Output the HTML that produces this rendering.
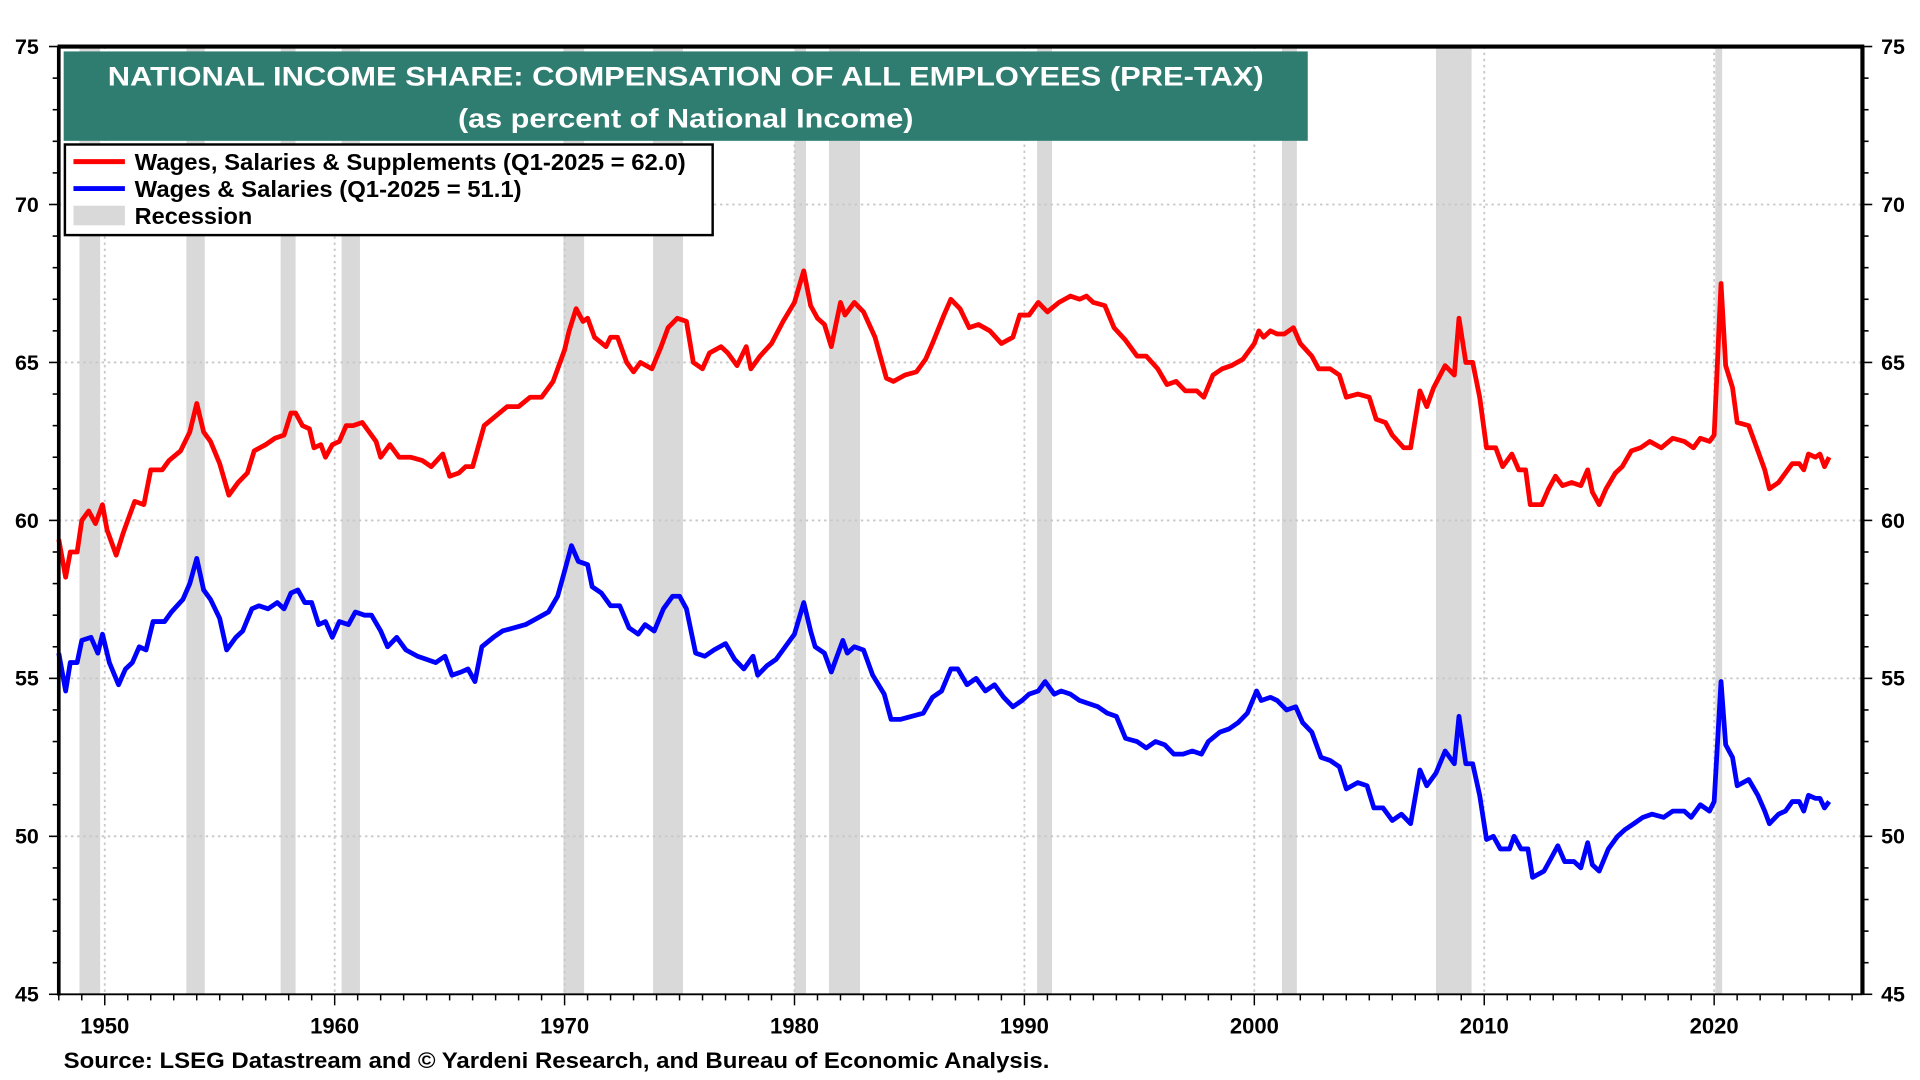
<!DOCTYPE html>
<html><head><meta charset="utf-8"><style>
html,body{margin:0;padding:0;background:#fff;width:1920px;height:1080px;overflow:hidden}
svg{display:block}
text{font-family:"Liberation Sans",Arial,sans-serif;font-weight:bold}
</style></head><body>
<svg id="chart" width="1920" height="1080" viewBox="0 0 1568 882" preserveAspectRatio="none" xmlns="http://www.w3.org/2000/svg">
<g id="rec"></g>
<g id="grid"></g>
<g id="series"></g>
<g id="axes"></g>
<rect x="52" y="42" width="1016" height="73" fill="#2e7d70"/>
<text x="560" y="70" fill="#fff" font-size="22" text-anchor="middle" textLength="944" lengthAdjust="spacingAndGlyphs">NATIONAL INCOME SHARE: COMPENSATION OF ALL EMPLOYEES (PRE-TAX)</text>
<text x="560" y="104" fill="#fff" font-size="22" text-anchor="middle" textLength="372" lengthAdjust="spacingAndGlyphs">(as percent of National Income)</text>
<g>
<rect x="53" y="118" width="529" height="74" fill="#fff" stroke="#000" stroke-width="2"/>
<line x1="60" y1="132" x2="102" y2="132" stroke="#f00" stroke-width="4"/>
<text x="110" y="139" font-size="19" textLength="450" lengthAdjust="spacingAndGlyphs">Wages, Salaries &amp; Supplements (Q1-2025 = 62.0)</text>
<line x1="60" y1="154" x2="102" y2="154" stroke="#00f" stroke-width="4"/>
<text x="110" y="161" font-size="19" textLength="316" lengthAdjust="spacingAndGlyphs">Wages &amp; Salaries (Q1-2025 = 51.1)</text>
<rect x="60" y="168" width="42" height="16" fill="#d9d9d9"/>
<text x="110" y="183" font-size="19" textLength="96" lengthAdjust="spacingAndGlyphs">Recession</text>
</g>
<text x="52" y="872" font-size="18" textLength="805" lengthAdjust="spacingAndGlyphs">Source: LSEG Datastream and © Yardeni Research, and Bureau of Economic Analysis.</text>
</svg>
<script>
const recStart=[1948.9,1953.55,1957.65,1960.3,1969.95,1973.85,1980.0,1981.5,1990.55,2001.2,2007.9,2020.05];
const recEnd=[1949.8,1954.35,1958.3,1961.1,1970.85,1975.15,1980.5,1982.85,1991.2,2001.85,2009.45,2020.35];
const redT=[1948.0,1948.3,1948.5,1948.8,1949.0,1949.3,1949.6,1949.9,1950.1,1950.5,1950.8,1951.0,1951.3,1951.7,1952.0,1952.5,1952.8,1953.3,1953.7,1954.0,1954.3,1954.6,1955.0,1955.4,1955.8,1956.2,1956.5,1957.0,1957.4,1957.8,1958.1,1958.3,1958.6,1958.9,1959.1,1959.4,1959.6,1959.9,1960.2,1960.5,1960.8,1961.2,1961.5,1961.8,1962.0,1962.4,1962.8,1963.3,1963.8,1964.2,1964.7,1965.0,1965.4,1965.7,1966.0,1966.5,1967.0,1967.5,1968.0,1968.5,1969.0,1969.5,1970.0,1970.2,1970.5,1970.8,1971.0,1971.3,1971.8,1972.0,1972.3,1972.7,1973.0,1973.3,1973.8,1974.2,1974.5,1974.9,1975.3,1975.6,1976.0,1976.3,1976.8,1977.1,1977.5,1977.9,1978.1,1978.5,1979.0,1979.5,1980.0,1980.4,1980.7,1981.0,1981.3,1981.6,1982.0,1982.2,1982.6,1983.0,1983.5,1984.0,1984.3,1984.8,1985.3,1985.7,1986.0,1986.5,1986.8,1987.2,1987.6,1988.0,1988.5,1989.0,1989.5,1989.8,1990.2,1990.6,1991.0,1991.5,1992.0,1992.4,1992.7,1993.0,1993.5,1993.9,1994.4,1994.9,1995.3,1995.8,1996.2,1996.6,1997.0,1997.5,1997.8,1998.2,1998.6,1999.0,1999.5,2000.0,2000.2,2000.4,2000.7,2001.0,2001.3,2001.7,2002.0,2002.5,2002.8,2003.3,2003.7,2004.0,2004.5,2005.0,2005.3,2005.7,2006.0,2006.5,2006.8,2007.2,2007.5,2007.8,2008.3,2008.7,2008.9,2009.2,2009.5,2009.8,2010.1,2010.5,2010.8,2011.2,2011.5,2011.8,2012.0,2012.5,2012.8,2013.1,2013.4,2013.8,2014.2,2014.5,2014.7,2015.0,2015.3,2015.7,2016.0,2016.4,2016.8,2017.2,2017.7,2018.2,2018.7,2019.1,2019.4,2019.8,2020.0,2020.3,2020.5,2020.8,2021.0,2021.5,2021.9,2022.2,2022.4,2022.8,2023.1,2023.4,2023.7,2023.9,2024.1,2024.4,2024.6,2024.8,2025.0];
const redV=[59.4,58.2,59.0,59.0,60.0,60.3,59.9,60.5,59.7,58.9,59.6,60.0,60.6,60.5,61.6,61.6,61.9,62.2,62.8,63.7,62.8,62.5,61.8,60.8,61.2,61.5,62.2,62.4,62.6,62.7,63.4,63.4,63.0,62.9,62.3,62.4,62.0,62.4,62.5,63.0,63.0,63.1,62.8,62.5,62.0,62.4,62.0,62.0,61.9,61.7,62.1,61.4,61.5,61.7,61.7,63.0,63.3,63.6,63.6,63.9,63.9,64.4,65.4,66.0,66.7,66.3,66.4,65.8,65.5,65.8,65.8,65.0,64.7,65.0,64.8,65.5,66.1,66.4,66.3,65.0,64.8,65.3,65.5,65.3,64.9,65.5,64.8,65.2,65.6,66.3,66.9,67.9,66.8,66.4,66.2,65.5,66.9,66.5,66.9,66.6,65.8,64.5,64.4,64.6,64.7,65.1,65.6,66.5,67.0,66.7,66.1,66.2,66.0,65.6,65.8,66.5,66.5,66.9,66.6,66.9,67.1,67.0,67.1,66.9,66.8,66.1,65.7,65.2,65.2,64.8,64.3,64.4,64.1,64.1,63.9,64.6,64.8,64.9,65.1,65.6,66.0,65.8,66.0,65.9,65.9,66.1,65.6,65.2,64.8,64.8,64.6,63.9,64.0,63.9,63.2,63.1,62.7,62.3,62.3,64.1,63.6,64.2,64.9,64.6,66.4,65.0,65.0,63.9,62.3,62.3,61.7,62.1,61.6,61.6,60.5,60.5,61.0,61.4,61.1,61.2,61.1,61.6,60.9,60.5,61.0,61.5,61.7,62.2,62.3,62.5,62.3,62.6,62.5,62.3,62.6,62.5,62.7,67.5,64.9,64.2,63.1,63.0,62.2,61.6,61.0,61.2,61.5,61.8,61.8,61.6,62.1,62.0,62.1,61.7,62.0];
const blueT=[1948.0,1948.3,1948.5,1948.8,1949.0,1949.4,1949.7,1949.9,1950.2,1950.6,1950.9,1951.2,1951.5,1951.8,1952.1,1952.6,1952.9,1953.4,1953.7,1954.0,1954.3,1954.6,1955.0,1955.3,1955.7,1956.0,1956.4,1956.7,1957.1,1957.5,1957.8,1958.1,1958.4,1958.7,1959.0,1959.3,1959.6,1959.9,1960.2,1960.6,1960.9,1961.3,1961.6,1962.0,1962.3,1962.7,1963.1,1963.6,1964.0,1964.4,1964.8,1965.1,1965.5,1965.8,1966.1,1966.4,1966.9,1967.3,1967.8,1968.3,1968.8,1969.3,1969.7,1970.0,1970.3,1970.6,1971.0,1971.2,1971.6,1972.0,1972.4,1972.8,1973.2,1973.5,1973.9,1974.3,1974.7,1975.0,1975.3,1975.7,1976.1,1976.5,1977.0,1977.4,1977.8,1978.2,1978.4,1978.8,1979.2,1979.6,1980.0,1980.4,1980.7,1980.9,1981.3,1981.6,1982.1,1982.3,1982.6,1983.0,1983.4,1983.9,1984.2,1984.6,1985.1,1985.6,1986.0,1986.4,1986.8,1987.1,1987.5,1987.9,1988.3,1988.7,1989.1,1989.5,1989.9,1990.2,1990.6,1990.9,1991.3,1991.6,1992.0,1992.4,1992.8,1993.2,1993.6,1994.0,1994.4,1994.9,1995.3,1995.7,1996.1,1996.5,1996.9,1997.3,1997.7,1998.0,1998.5,1998.9,1999.3,1999.7,2000.1,2000.3,2000.7,2001.0,2001.4,2001.8,2002.1,2002.5,2002.9,2003.3,2003.7,2004.0,2004.5,2004.9,2005.2,2005.6,2006.0,2006.4,2006.8,2007.2,2007.5,2007.9,2008.3,2008.7,2008.9,2009.2,2009.5,2009.8,2010.1,2010.4,2010.7,2011.1,2011.3,2011.6,2011.9,2012.1,2012.6,2012.9,2013.2,2013.5,2013.9,2014.2,2014.5,2014.7,2015.0,2015.4,2015.8,2016.1,2016.5,2016.9,2017.3,2017.8,2018.2,2018.7,2019.0,2019.4,2019.8,2020.0,2020.3,2020.5,2020.8,2021.0,2021.5,2021.9,2022.2,2022.4,2022.8,2023.1,2023.4,2023.7,2023.9,2024.1,2024.4,2024.6,2024.8,2025.0];
const blueV=[55.8,54.6,55.5,55.5,56.2,56.3,55.8,56.4,55.5,54.8,55.3,55.5,56.0,55.9,56.8,56.8,57.1,57.5,58.0,58.8,57.8,57.5,56.9,55.9,56.3,56.5,57.2,57.3,57.2,57.4,57.2,57.7,57.8,57.4,57.4,56.7,56.8,56.3,56.8,56.7,57.1,57.0,57.0,56.5,56.0,56.3,55.9,55.7,55.6,55.5,55.7,55.1,55.2,55.3,54.9,56.0,56.3,56.5,56.6,56.7,56.9,57.1,57.6,58.4,59.2,58.7,58.6,57.9,57.7,57.3,57.3,56.6,56.4,56.7,56.5,57.2,57.6,57.6,57.2,55.8,55.7,55.9,56.1,55.6,55.3,55.7,55.1,55.4,55.6,56.0,56.4,57.4,56.5,56.0,55.8,55.2,56.2,55.8,56.0,55.9,55.1,54.5,53.7,53.7,53.8,53.9,54.4,54.6,55.3,55.3,54.8,55.0,54.6,54.8,54.4,54.1,54.3,54.5,54.6,54.9,54.5,54.6,54.5,54.3,54.2,54.1,53.9,53.8,53.1,53.0,52.8,53.0,52.9,52.6,52.6,52.7,52.6,53.0,53.3,53.4,53.6,53.9,54.6,54.3,54.4,54.3,54.0,54.1,53.6,53.3,52.5,52.4,52.2,51.5,51.7,51.6,50.9,50.9,50.5,50.7,50.4,52.1,51.6,52.0,52.7,52.3,53.8,52.3,52.3,51.3,49.9,50.0,49.6,49.6,50.0,49.6,49.6,48.7,48.9,49.3,49.7,49.2,49.2,49.0,49.8,49.1,48.9,49.6,50.0,50.2,50.4,50.6,50.7,50.6,50.8,50.8,50.6,51.0,50.8,51.1,54.9,52.9,52.5,51.6,51.8,51.3,50.8,50.4,50.7,50.8,51.1,51.1,50.8,51.3,51.2,51.2,50.9,51.1];
const yTicks=[45,50,55,60,65,70,75];
const xTicks=[1950,1960,1970,1980,1990,2000,2010,2020];

const NS="http://www.w3.org/2000/svg";
const L=48,R=1521,T=38,B=812,X0=1948.0,X1=2026.45,Y0=45,Y1=75;
const xs=t=>L+(t-X0)/(X1-X0)*(R-L);
const ys=v=>B-(v-Y0)/(Y1-Y0)*(B-T);
function mk(tag,attrs,parent){const e=document.createElementNS(NS,tag);for(const k in attrs)e.setAttribute(k,attrs[k]);parent.appendChild(e);return e;}
const rec=document.getElementById('rec'),grid=document.getElementById('grid'),ser=document.getElementById('series'),ax=document.getElementById('axes');
recStart.forEach((s,i)=>{
  const r=mk('rect',{x:xs(s),y:T,width:xs(recEnd[i])-xs(s),height:B-T,fill:'#d9d9d9'},rec);
  
  
});
yTicks.forEach(v=>{
  if(v>Y0&&v<Y1){const g=mk('line',{x1:L,x2:R,y1:ys(v),y2:ys(v),stroke:'#c8c8c8','stroke-width':1.5,'stroke-dasharray':'2,3'},grid);
  
  }
  const a=mk('text',{x:22,y:ys(v)+6,'font-size':17.5,'text-anchor':'middle'},ax);a.textContent=v;
  
  
  const b=mk('text',{x:1546,y:ys(v)+6,'font-size':17.5,'text-anchor':'middle'},ax);b.textContent=v;
  
  
});
for(let v=Y0;v<=Y1;v++){
  const w=(v%5===0)?8:5;
  mk('line',{x1:L-w,x2:L,y1:ys(v),y2:ys(v),stroke:'#000','stroke-width':1.3},ax);
  mk('line',{x1:R,x2:R+w,y1:ys(v),y2:ys(v),stroke:'#000','stroke-width':1.3},ax);
}
xTicks.forEach(t=>{
  const g=mk('line',{x1:xs(t),x2:xs(t),y1:T,y2:B,stroke:'#c8c8c8','stroke-width':1.5,'stroke-dasharray':'2,3'},grid);
  
  
  const a=mk('text',{x:xs(t),y:844,'font-size':18,'text-anchor':'middle'},ax);a.textContent=t;
  
  
});
for(let t=1948;t<=2026;t++){
  const h=(t%10===0)?9:5;
  mk('line',{x1:xs(t),x2:xs(t),y1:B,y2:B+h,stroke:'#000','stroke-width':1.2},ax);
}
function line(T_,V,color,name){
  const d=T_.map((t,i)=>(i?'L':'M')+xs(t).toFixed(1)+','+ys(V[i]).toFixed(1)).join('');
  const p=mk('path',{d:d,fill:'none',stroke:color,'stroke-width':3.9,'stroke-linejoin':'round'},ser);
  
  
}
line(redT,redV,'#ff0000','line-wages-salaries-supplements');
line(blueT,blueV,'#0000ff','line-wages-salaries');
mk('line',{x1:L,x2:L,y1:T,y2:B+1,stroke:'#000','stroke-width':3},ax);
mk('line',{x1:L,x2:R,y1:B,y2:B,stroke:'#000','stroke-width':1.5},ax);
mk('line',{x1:L-1,x2:R+1.5,y1:T,y2:T,stroke:'#000','stroke-width':3.4},ax);
mk('line',{x1:R,x2:R,y1:T,y2:B,stroke:'#000','stroke-width':3.4},ax);
</script>
</body></html>
